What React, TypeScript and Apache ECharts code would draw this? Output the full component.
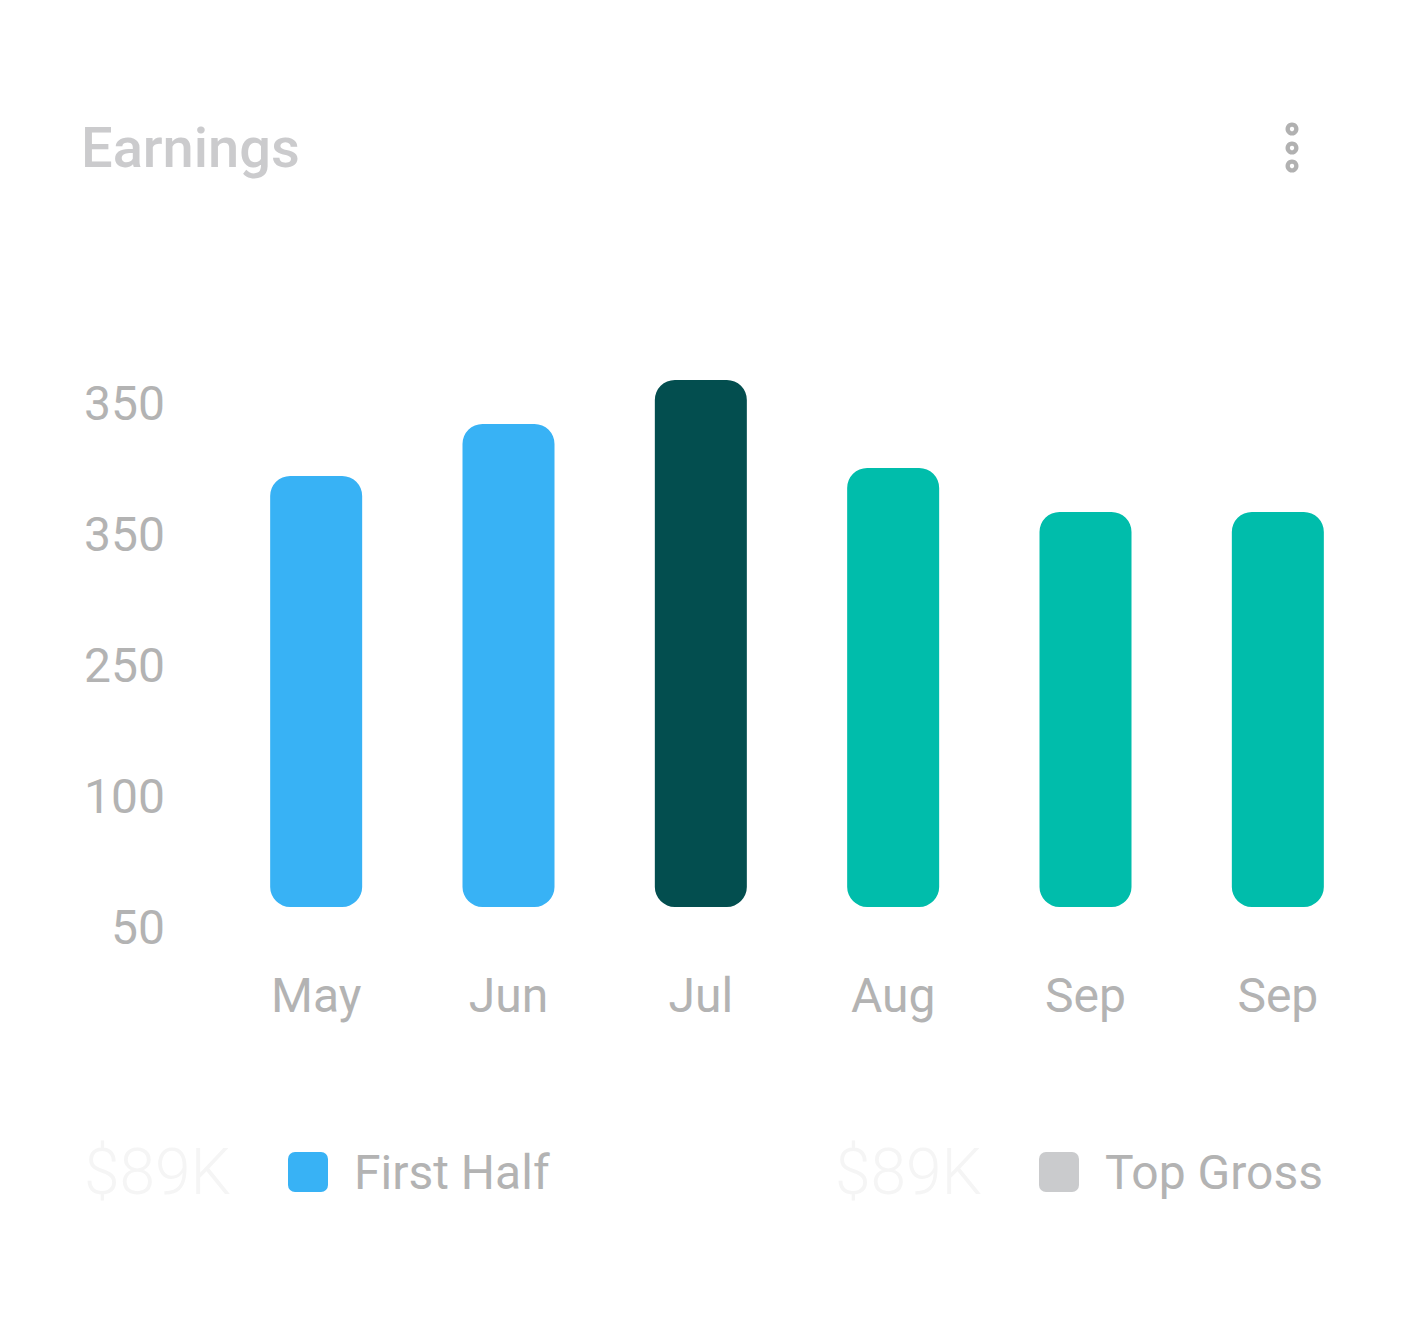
import React, { useEffect, useRef } from "react";
import * as echarts from "echarts";

const categories = ["May", "Jun", "Jul", "Aug", "Sep", "Sep"];
const yTickLabels = ["50", "100", "250", "350", "350"];
// bar tops in axis units (one unit per tick step)
const barTops = [3.443, 3.84, 4.176, 3.504, 3.168, 3.168];
const barBase = 0.153;
const barColors = ["#38b2f5", "#38b2f5", "#034e4f", "#00bdab", "#00bdab", "#00bdab"];
const legendItems = [
  { value: "$89K", name: "First Half", color: "#38b2f5" },
  { value: "$89K", name: "Top Gross", color: "#cacbcd" },
];

const FONT = "Roboto, Inter, 'Noto Sans', sans-serif";

export default function App() {
  const ref = useRef<HTMLDivElement>(null);
  useEffect(() => {
    if (!ref.current) return;
    const chart = echarts.init(ref.current, null, { renderer: "svg" });
    const legendX = [84, 835];
    const graphics: any[] = [];
    legendItems.forEach((it, i) => {
      const x0 = legendX[i];
      graphics.push({
        type: "text",
        x: x0,
        y: 1172,
        style: {
          text: it.value,
          fill: "#f5f5f5",
          font: `300 64px ${FONT}`,
          textVerticalAlign: "middle",
        },
      });
      graphics.push({
        type: "rect",
        shape: { x: x0 + 204, y: 1152, width: 40, height: 40, r: 7 },
        style: { fill: it.color },
      });
      graphics.push({
        type: "text",
        x: x0 + 270,
        y: 1172,
        style: {
          text: it.name,
          fill: "#b3b3b3",
          font: `400 48px ${FONT}`,
          textVerticalAlign: "middle",
        },
      });
    });
    [129, 148, 166].forEach((cy) => {
      graphics.push({
        type: "ring",
        shape: { cx: 1292, cy, r: 6.5, r0: 2.2 },
        style: { fill: "#b1b1b1" },
      });
    });
    graphics.push({
      type: "text",
      x: 81,
      y: 148,
      style: {
        text: "Earnings",
        fill: "#cbcbcd",
        font: `500 56px ${FONT}`,
        textVerticalAlign: "middle",
      },
    });

    chart.setOption({
      animation: false,
      backgroundColor: "#ffffff",
      textStyle: { fontFamily: FONT },
      grid: { left: 220, right: 30, top: 927 - 4.3 * 131, bottom: 1320 - 927, containLabel: false },
      xAxis: {
        type: "category",
        data: categories,
        axisLine: { show: false },
        axisTick: { show: false },
        axisLabel: { color: "#b3b3b3", fontSize: 48, margin: 44, fontFamily: FONT },
      },
      yAxis: {
        type: "value",
        min: 0,
        max: 4.3,
        interval: 1,
        splitLine: { show: false },
        axisLine: { show: false },
        axisTick: { show: false },
        axisLabel: {
          color: "#b3b3b3",
          fontSize: 48,
          margin: 55,
          fontFamily: FONT,
          formatter: (v: number) => (Number.isInteger(v) && yTickLabels[v] !== undefined ? yTickLabels[v] : ""),
        },
      },
      series: [
        {
          type: "bar",
          stack: "s",
          barWidth: 92,
          silent: true,
          itemStyle: { color: "transparent" },
          data: categories.map(() => barBase),
        },
        {
          type: "bar",
          stack: "s",
          barWidth: 92,
          data: barTops.map((t, i) => ({
            value: +(t - barBase).toFixed(3),
            itemStyle: { color: barColors[i], borderRadius: 20 },
          })),
        },
      ],
      graphic: graphics,
    });
    return () => chart.dispose();
  }, []);
  return (
    <div
      ref={ref}
      style={{ position: "absolute", left: 0, top: 0, width: 1404, height: 1320, background: "#fff" }}
    />
  );
}
